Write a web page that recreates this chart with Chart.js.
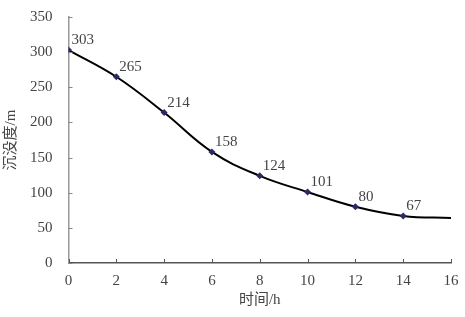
<!DOCTYPE html>
<html>
<head>
<meta charset="utf-8">
<script src="https://cdn.jsdelivr.net/npm/chart.js@4/dist/chart.umd.min.js"></script>
<style>
  html, body { margin: 0; padding: 0; background: #fff; }
  #wrap { width: 465px; height: 317px; }
</style>
</head>
<body>
<div id="wrap"><canvas id="c"></canvas></div>
<script>
// measured points (hours, depth)
const hours = [0, 2, 4, 6, 8, 10, 12, 14, 16];
const depth = [303, 265, 214, 158, 124, 101, 80, 67, 64];
// only the measured points get a marker and a label
const marked = [true, true, true, true, true, true, true, true, false];
const xTicks = [0, 2, 4, 6, 8, 10, 12, 14, 16];
const yTicks = [0, 50, 100, 150, 200, 250, 300, 350];

const serif = '"Liberation Serif", "Noto Sans CJK SC", serif';

// inward tick marks + point value labels
const decor = {
  id: 'decor',
  afterDatasetsDraw(chart) {
    const ctx = chart.ctx;
    const xs = chart.scales.x, ys = chart.scales.y;
    ctx.save();
    ctx.lineWidth = 1;
    ctx.strokeStyle = '#888';
    yTicks.forEach(function (v) {
      const py = Math.round(ys.getPixelForValue(v)) + 0.5;
      ctx.beginPath();
      ctx.moveTo(xs.left, py);
      ctx.lineTo(xs.left + 4, py);
      ctx.stroke();
    });
    ctx.strokeStyle = '#555';
    xTicks.forEach(function (v) {
      const px = Math.round(xs.getPixelForValue(v)) + 0.5;
      ctx.beginPath();
      ctx.moveTo(px, ys.bottom);
      ctx.lineTo(px, ys.bottom - 4);
      ctx.stroke();
    });

    ctx.fillStyle = '#444';
    ctx.font = '15px ' + serif;
    ctx.textAlign = 'left';
    ctx.textBaseline = 'middle';
    const meta = chart.getDatasetMeta(0);
    meta.data.forEach(function (pt, i) {
      if (!marked[i]) return;
      ctx.fillText(String(depth[i]), pt.x + 3, pt.y - 10);
    });
    ctx.restore();
  }
};

new Chart(document.getElementById('c'), {
  type: 'line',
  data: {
    datasets: [{
      data: hours.map(function (h, i) { return { x: h, y: depth[i] }; }),
      borderColor: '#000',
      borderWidth: 2,
      tension: 0.4,
      pointStyle: 'rectRot',
      pointRadius: marked.map(function (m) { return m ? 3.5 : 0; }),
      pointBackgroundColor: '#2a2a66',
      pointBorderColor: '#2a2a66',
      pointBorderWidth: 0
    }]
  },
  options: {
    responsive: true,
    maintainAspectRatio: false,
    animation: false,
    layout: { padding: { top: 14, right: 14, left: 2, bottom: 8 } },
    plugins: {
      legend: { display: false },
      tooltip: { enabled: false }
    },
    scales: {
      x: {
        type: 'linear',
        min: 0,
        max: 16,
        afterBuildTicks: function (s) { s.ticks = xTicks.map(function (v) { return { value: v }; }); },
        grid: { display: false },
        border: { color: '#555', width: 1.5 },
        ticks: { color: '#444', font: { family: serif, size: 15 }, padding: 1, maxRotation: 0 },
        title: { display: true, text: '时间/h', color: '#444', font: { family: serif, size: 15 }, padding: { top: 0, bottom: 0 } }
      },
      y: {
        min: 0,
        max: 350,
        afterBuildTicks: function (s) { s.ticks = yTicks.map(function (v) { return { value: v }; }); },
        grid: { display: false },
        border: { color: '#999', width: 1.5 },
        ticks: { color: '#444', font: { family: serif, size: 15 }, padding: 8 },
        title: { display: true, text: '沉没度/m', color: '#444', font: { family: serif, size: 15 }, padding: { top: 0, bottom: 2 } }
      }
    }
  },
  plugins: [decor]
});
</script>
</body>
</html>
